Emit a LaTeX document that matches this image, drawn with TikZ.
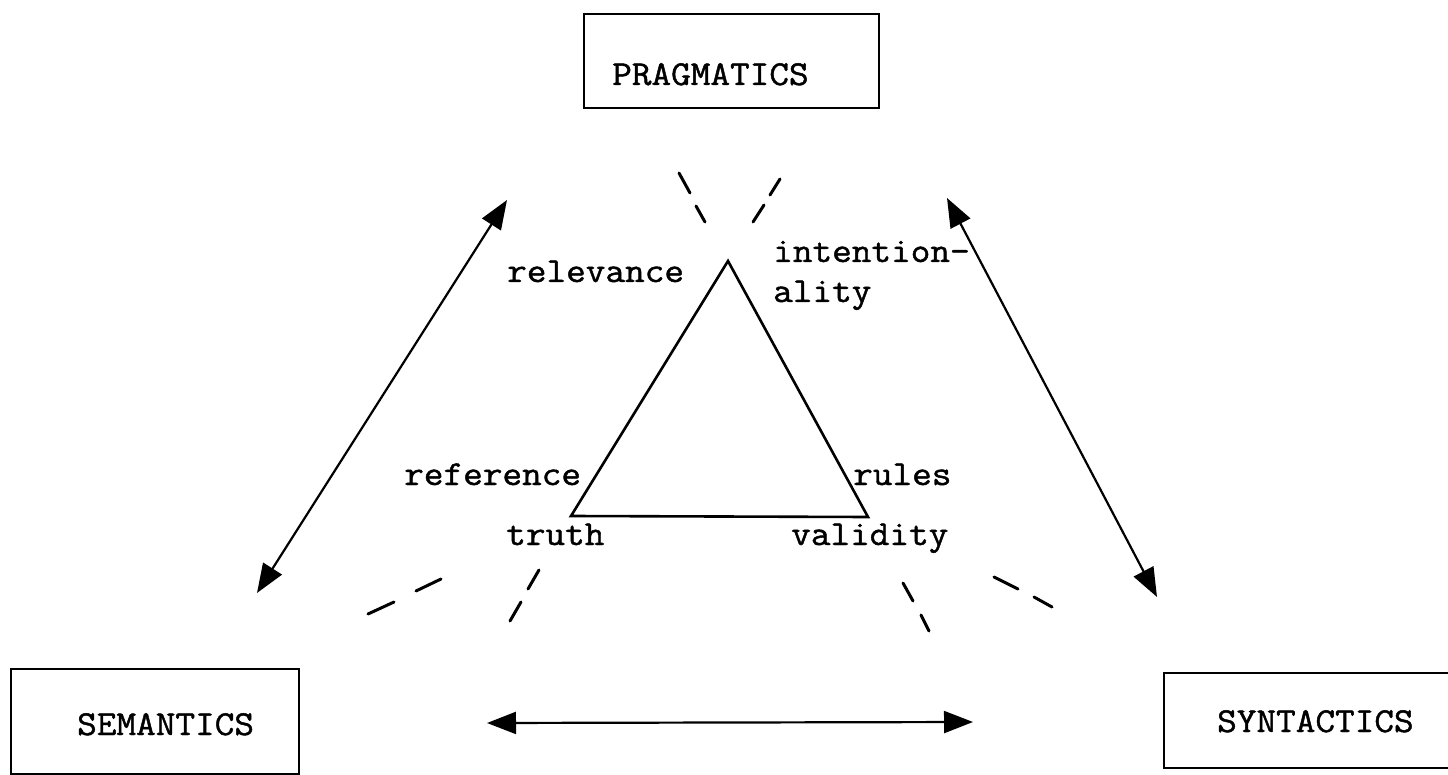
\documentclass[tikz,border=0pt]{standalone}
\usepackage{fontspec}
\newfontfamily\typewriter{Latin Modern Mono}[FakeBold=1.3, FakeStretch=1.09]
\usetikzlibrary{arrows.meta}
\begin{document}
\begin{tikzpicture}[x=1pt,y=-1pt,
  lbl/.style={inner sep=0pt, anchor=base west, font=\typewriter\fontsize{35}{40}\selectfont},
  panel/.style={draw, line width=2pt, inner sep=0pt, anchor=north west},
  twoway/.style={line width=2.2pt,
    {Triangle[length=29pt,width=22pt]}-{Triangle[length=29pt,width=22pt]}},
  tick/.style={line width=3pt, line cap=round},
  edge/.style={line width=2.6pt, line join=miter}]
\useasboundingbox (0,0) rectangle (1448,775);
\clip (0,0) rectangle (1448,775);

% the three boxes
\node[panel, minimum width=295pt, minimum height=94pt]  (pragbox) at (583,13)  {};
\node[panel, minimum width=288pt, minimum height=105pt] (sembox)  at (10,668)  {};
\node[panel, minimum width=310pt, minimum height=95pt]  (synbox)  at (1163,672) {};
\node[lbl] (prag) at (612,85)  {PRAGMATICS};
\node[lbl] (sem)  at (77,735)  {SEMANTICS};
\node[lbl] (syn)  at (1217,732) {SYNTACTICS};

% double arrows between the dimensions
\coordinate (aLtop) at (507,200);  \coordinate (aLbot) at (257,593);
\coordinate (aRtop) at (947,198);  \coordinate (aRbot) at (1157,597);
\coordinate (aBl)   at (487,723);  \coordinate (aBr)   at (973,722);
\draw[twoway] (aLtop) -- (aLbot);
\draw[twoway] (aRtop) -- (aRbot);
\draw[twoway] (aBl) -- (aBr);

% central triangle
\coordinate (tA) at (728,261);
\coordinate (tL) at (571,516);
\coordinate (tR) at (868,517);
\draw[edge] (tA) -- (tL) -- (tR) -- cycle;

% labels around the triangle
\node[lbl] (relev)  at (507,282) {relevance};
\node[lbl] (intent) at (773,262) {intention-};
\node[lbl] (ality)  at (773,302) {ality};
\node[lbl] (refer)  at (404,485) {reference};
\node[lbl] (rules)  at (853,485) {rules};
\node[lbl] (truth)  at (506,545) {truth};
\node[lbl] (valid)  at (791,545) {validity};

% broken strokes
\draw[tick] (679,173) -- (690,193);  \draw[tick] (696,206) -- (705,222);
\draw[tick] (780,179) -- (770,195);  \draw[tick] (764,205) -- (753,222);
\draw[tick] (368,614) -- (394,602);  \draw[tick] (416,591) -- (441,579);
\draw[tick] (539,570) -- (528,589);  \draw[tick] (521,602) -- (510,621);
\draw[tick] (903,583) -- (913,601);  \draw[tick] (921,615) -- (929,631);
\draw[tick] (994,577) -- (1018,589); \draw[tick] (1034,597) -- (1052,607);
\end{tikzpicture}
\end{document}
